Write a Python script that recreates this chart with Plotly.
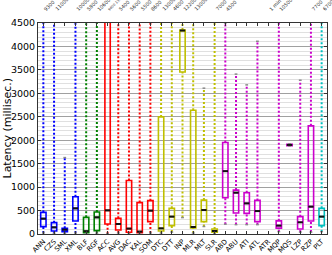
import plotly.graph_objects as go

categories = ["ANN", "CZS", "SML", "XML", "BLF", "RGF", "ACC", "AVG", "DAC", "KAL", "SOM",
              "DTC", "DTT", "INP", "MLR", "MLT", "SLR", "ABD", "ABU", "ATI", "ATL", "ATR",
              "MQP", "MQS", "LZP", "RZP", "PLT"]
groups = ["b", "b", "b", "b", "g", "g", "r", "r", "r", "r", "r",
          "y", "y", "y", "y", "y", "y", "m", "m", "m", "m", "m",
          "m", "m", "m", "m", "c"]
mins = [20, 15, 15, 20, 10, 15, 5, 20, 5, 5, 20,
        20, 40, 350, 20, 160, 10, 210, 200, 200, 200, 60000,
        50, 1880, 40, 40, 50]
q1 = [157, 64, 51, 277, 30, 72, 213, 85, 36, 30, 264,
      64, 179, 3454, 130, 264, 36, 774, 447, 440, 264, 60000,
      125, 1885, 106, 277, 179]
medians = [327, 142, 93, 547, 60, 355, 504, 213, 115, 51, 498,
           121, 370, 4340, 150, 511, 64, 1340, 881, 653, 489, 60000,
           179, 1900, 249, 583, 370]
q3 = [462, 242, 121, 795, 355, 468, 9400, 334, 1140, 670, 711,
      2497, 547, 4350, 2640, 723, 106, 1951, 936, 881, 717, 60000,
      280, 1915, 370, 2306, 547]
maxs = [9300, 11000, 1630, 10000, 5800, 10600, 13500, 5400, 5600, 5500, 8600,
        13000, 4600, 12200, 13000, 3110, 7000, 4500, 3410, 3180, 4110, 60000,
        10500, 1920, 3280, 7700, 6700]
top_labels = ["9300", "11000", "", "10000", "5800", "10600", "9400 13500", "5400", "5600", "5500", "8600",
              "13000", "4600", "12200", "13000", "", "7000", "4500", "", "", "", "1 min",
              "10500", "", "", "7700", "6700"]

color_map = {"b": "#0000ff", "g": "#008000", "r": "#ff0000",
             "y": "#bfbf00", "m": "#cc00cc", "c": "#00bfbf"}
YMAX = 4500
BW = 0.5
CAP = 0.13

fig = go.Figure()
idx = list(range(len(categories)))

for g in ["b", "g", "r", "y", "m", "c"]:
    sel = [i for i in idx if groups[i] == g]
    col = color_map[g]
    wx, wy = [], []
    for i in sel:
        wx += [i, i, None, i, i, None]
        wy += [mins[i], q1[i], None, q3[i], maxs[i], None]
    fig.add_trace(go.Scatter(x=wx, y=wy, mode="lines",
                             line=dict(color=col, width=2, dash="2px,2px"),
                             hoverinfo="skip", showlegend=False))
    fig.add_trace(go.Box(x=sel, q1=[q1[i] for i in sel], median=[medians[i] for i in sel],
                         q3=[q3[i] for i in sel], lowerfence=[q1[i] for i in sel],
                         upperfence=[q3[i] for i in sel], width=BW, whiskerwidth=0,
                         line=dict(color=col, width=1.6), fillcolor="rgba(255,255,255,0)",
                         boxpoints=False, showlegend=False))

cx, cy = [], []
for i in idx:
    for v in (mins[i], maxs[i]):
        cx += [i - CAP, i + CAP, None]
        cy += [v, v, None]
fig.add_trace(go.Scatter(x=cx, y=cy, mode="lines", line=dict(color="#888888", width=1.5),
                         hoverinfo="skip", showlegend=False))

mx, my = [], []
for i in idx:
    mx += [i - BW / 2, i + BW / 2, None]
    my += [medians[i], medians[i], None]
fig.add_trace(go.Scatter(x=mx, y=my, mode="lines", line=dict(color="#111111", width=2),
                         hoverinfo="skip", showlegend=False))

for i in idx:
    if top_labels[i]:
        small = len(top_labels[i]) > 6
        fig.add_annotation(x=i, y=1, xref="x", yref="paper", text=top_labels[i],
                           textangle=-45, showarrow=False, xanchor="left", yanchor="bottom",
                           xshift=-3, yshift=8,
                           font=dict(size=3.5 if small else 5, color="#333333",
                                     family="DejaVu Sans"))

fig.add_annotation(x=0, y=0.5, xref="paper", yref="paper", text="Latency (millisec.)",
                   textangle=-90, showarrow=False, xanchor="center", yanchor="middle",
                   xshift=-31, font=dict(size=11, color="black", family="DejaVu Sans"))

fig.update_layout(
    width=332, height=255,
    margin=dict(l=38, r=5, t=23, b=21),
    paper_bgcolor="white", plot_bgcolor="white",
    font=dict(family="DejaVu Sans", color="black"),
    boxmode="overlay",
    xaxis=dict(range=[-0.5, len(categories) - 0.5], tickmode="array", tickvals=idx,
               ticktext=categories, tickangle=-45, tickfont=dict(size=6.8),
               automargin=False,
               showgrid=False, zeroline=False, showline=True, linecolor="#333333",
               linewidth=1, mirror="ticks", ticks="inside", ticklen=3, tickcolor="#333333"),
    yaxis=dict(range=[0, YMAX], dtick=500, tickfont=dict(size=9.5), automargin=False,
               showgrid=True, gridcolor="#a0a0a0", gridwidth=1, zeroline=False,
               showline=True, linecolor="#333333", linewidth=1, mirror="ticks",
               ticks="inside", ticklen=3, tickcolor="#333333",
               minor=dict(dtick=100, showgrid=True, gridcolor="#e0e0e0", gridwidth=1)),
)

fig.write_html("out.html", config={"displayModeBar": False},
               post_script="document.body.style.margin='0';")
